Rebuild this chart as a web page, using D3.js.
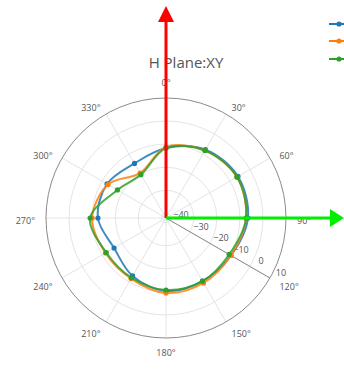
<!DOCTYPE html>
<html>
<head>
<meta charset="utf-8">
<script src="https://cdn.jsdelivr.net/npm/d3@7"></script>
<style>
  html, body { margin: 0; padding: 0; background: #fff; }
  svg { display: block; }
</style>
</head>
<body>
<svg id="chart" width="344" height="376"></svg>
<script>
// ---- data ----
const angles = [0, 30, 60, 90, 120, 150, 180, 210, 240, 270, 300, 330];
const seriesBlue   = [-11.7, -7.8, -6.0, -6.5, -9.5, -10.4, -10.4, -13.0, -16.0, -12.5, -12.5, -14.7];
const seriesOrange = [-11.2, -8.2, -6.5, -7.3, -9.5, -9.5, -9.5, -11.7, -11.7, -10.0, -13.0, -19.5];
const seriesGreen  = [-11.7, -8.2, -6.5, -7.3, -10.4, -10.4, -10.8, -12.1, -12.1, -9.1, -17.7, -20.3];
const radialTicks = [-40, -30, -20, -10, 0, 10];
const angularTicks = [0, 30, 60, 90, 120, 150, 180, 210, 240, 270, 300, 330];
const titleText = "H Plane:XY";
const radialRange = [-42, 10];

const colors = ["#1f77b4", "#ff7f0e", "#2ca02c"];
const allSeries = [seriesBlue, seriesOrange, seriesGreen];

// ---- layout ----
const svg = d3.select("#chart");
const cx = 166, cy = 218, R = 120;
const font = "'Open Sans', 'DejaVu Sans', sans-serif";

const r = d3.scaleLinear().domain(radialRange).range([0, R]);
const rad = d => d * Math.PI / 180;
const px = (a, rr) => cx + rr * Math.sin(rad(a));
const py = (a, rr) => cy - rr * Math.cos(rad(a));

const g = svg.append("g");

// grid circles
g.selectAll("circle.grid").data(radialTicks.slice(0, -1)).enter()
  .append("circle")
  .attr("cx", cx).attr("cy", cy)
  .attr("r", d => r(d))
  .attr("fill", "none").attr("stroke", "#e4e4e4").attr("stroke-width", 1);

// spokes
g.selectAll("line.spoke").data(angularTicks).enter()
  .append("line")
  .attr("x1", cx).attr("y1", cy)
  .attr("x2", d => px(d, R)).attr("y2", d => py(d, R))
  .attr("stroke", "#e4e4e4").attr("stroke-width", 1);

// outer circle
g.append("circle").attr("cx", cx).attr("cy", cy).attr("r", R)
  .attr("fill", "none").attr("stroke", "#8a8a8a").attr("stroke-width", 1);

// radial axis line at 120 deg
const radAxisAngle = 120;
g.append("line")
  .attr("x1", cx).attr("y1", cy)
  .attr("x2", px(radAxisAngle, R)).attr("y2", py(radAxisAngle, R))
  .attr("stroke", "#8a8a8a").attr("stroke-width", 1);

// radial tick labels
const ux = Math.sin(rad(radAxisAngle)), uy = -Math.cos(rad(radAxisAngle));
const nx = 0.5, ny = -0.866;
g.selectAll("text.rt").data(radialTicks).enter()
  .append("text")
  .attr("x", d => cx + (r(d) + 7) * ux + 10 * nx)
  .attr("y", d => cy + (r(d) + 7) * uy + 10 * ny + 3)
  .attr("text-anchor", "middle")
  .attr("font-family", font).attr("font-size", 9)
  .attr("fill", "#555")
  .text(d => d < 0 ? "\u2212" + Math.abs(d) : String(d));

// angular tick labels
const labR = R + 11;
g.selectAll("text.at").data(angularTicks).enter()
  .append("text")
  .attr("x", d => px(d, labR))
  .attr("y", d => {
    const dy = d === 0 ? -4.5 : (d === 180 ? 4 : 3);
    return py(d, labR) + dy + 3;
  })
  .attr("text-anchor", d => {
    const s = Math.sin(rad(d));
    return Math.abs(s) < 0.01 ? "middle" : (s > 0 ? "start" : "end");
  })
  .attr("font-family", font).attr("font-size", 9)
  .attr("fill", "#555")
  .text(d => d + "\u00B0");

// data lines
const line = d3.lineRadial()
  .angle((d, i) => rad(angles[i]))
  .radius(d => r(d))
  .curve(d3.curveCatmullRomClosed.alpha(0.5));

allSeries.forEach((s, k) => {
  const sg = g.append("g").attr("transform", `translate(${cx},${cy})`);
  sg.append("path").attr("d", line(s))
    .attr("fill", "none").attr("stroke", colors[k]).attr("stroke-width", 2)
    .attr("stroke-opacity", 0.85);
  sg.selectAll("circle").data(s).enter().append("circle")
    .attr("cx", (d, i) => r(d) * Math.sin(rad(angles[i])))
    .attr("cy", (d, i) => -r(d) * Math.cos(rad(angles[i])))
    .attr("r", 2.6).attr("fill", colors[k]);
});

// title
svg.append("text")
  .attr("x", 186).attr("y", 68)
  .attr("text-anchor", "middle")
  .attr("font-family", font).attr("font-size", 15)
  .attr("fill", "#555")
  .text(titleText);

// legend (names are outside the visible area)
const legendY = [24, 41, 59];
colors.forEach((c, k) => {
  svg.append("line").attr("x1", 329).attr("x2", 349)
    .attr("y1", legendY[k]).attr("y2", legendY[k])
    .attr("stroke", c).attr("stroke-width", 2);
  svg.append("circle").attr("cx", 339).attr("cy", legendY[k]).attr("r", 2.6).attr("fill", c);
});

// arrows
svg.append("line").attr("x1", cx).attr("y1", cy).attr("x2", cx).attr("y2", 20)
  .attr("stroke", "#ff0000").attr("stroke-width", 3);
svg.append("path")
  .attr("d", d3.line()([[cx - 8, 22], [cx + 8, 22], [cx, 6]]) + "Z")
  .attr("fill", "#ff0000");
svg.append("line").attr("x1", cx).attr("y1", cy).attr("x2", 332).attr("y2", cy)
  .attr("stroke", "#00ee00").attr("stroke-width", 3);
svg.append("path")
  .attr("d", d3.line()([[330, cy - 9], [330, cy + 9], [344, cy]]) + "Z")
  .attr("fill", "#00ee00");
</script>
</body>
</html>
